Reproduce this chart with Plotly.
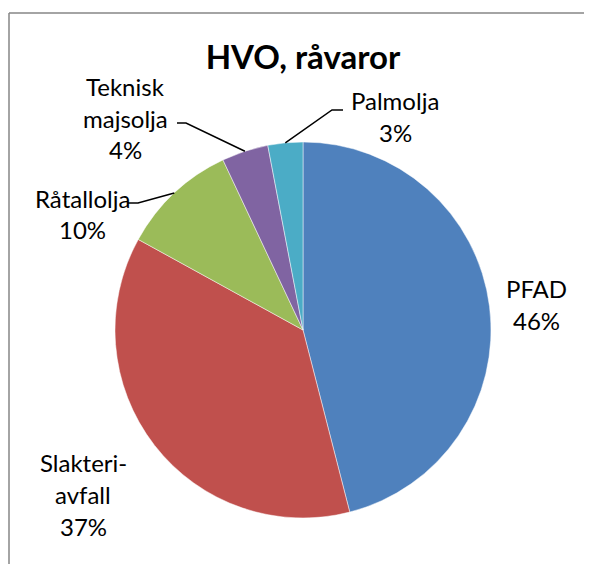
"""Pie chart: HVO, råvaror."""
import math

import plotly.graph_objects as go

OFF = 8  # page body margin on each side; the figure is shrunk so the page doesn't scroll
W, H = 592 - 2 * OFF, 572 - 2 * OFF

# Data
labels = ["PFAD", "Slakteriavfall", "Råtallolja", "Teknisk majsolja", "Palmolja"]
values = [46, 37, 10, 4, 3]
colors = ["#4F81BD", "#C0504D", "#9BBB59", "#8064A2", "#4BACC6"]
label_lines = [
    ["PFAD", "46%"],
    ["Slakteri-", "avfall", "37%"],
    ["Råtallolja", "10%"],
    ["Teknisk", "majsolja", "4%"],
    ["Palmolja", "3%"],
]

# pie geometry in window pixels
CX, CY, R = 303, 330, 188

# label text placement (pixel centre x, first line y) and leader elbows
label_pos = {
    "PFAD": (536, 288),
    "Slakteriavfall": (83, 462),
    "Råtallolja": (82, 198),
    "Teknisk majsolja": (125, 86),
    "Palmolja": (395, 101),
}
leaders = {
    "Råtallolja": [(138, 203), (128, 203)],
    "Teknisk majsolja": [(186, 123), (177, 123)],
    "Palmolja": [(332, 110), (343, 110)],
}
LINE_STEP = 32
FONT = "Lato, 'Open Sans', sans-serif"


def px(x, y):
    """Window pixel -> paper coordinates."""
    return (x - OFF) / W, 1 - (y - OFF) / H


fig = go.Figure()

fig.add_trace(go.Pie(
    labels=labels,
    values=values,
    sort=False,
    direction="clockwise",
    rotation=0,
    textinfo="none",
    hoverinfo="label+percent",
    marker=dict(colors=colors, line=dict(color="rgba(255,255,255,0.6)", width=0.8)),
    domain=dict(x=[px(CX - R, 0)[0], px(CX + R, 0)[0]],
                y=[px(0, CY + R)[1], px(0, CY - R)[1]]),
    showlegend=False,
))

# labels
for name, lines in zip(labels, label_lines):
    lx, ly = label_pos[name]
    for i, line in enumerate(lines):
        x, y = px(lx, ly + i * LINE_STEP)
        fig.add_annotation(
            x=x, y=y, xref="paper", yref="paper",
            text=line, showarrow=False,
            font=dict(family=FONT, size=24, color="#000000"),
            xanchor="center", yanchor="middle",
        )

# leader lines, starting at the slice mid-angle on the rim
total = sum(values)
cum = 0
for name, v in zip(labels, values):
    mid = (cum + v / 2) / total * 2 * math.pi
    cum += v
    if name not in leaders:
        continue
    pts = [(CX + R * math.sin(mid), CY - R * math.cos(mid))] + leaders[name]
    path = "M " + " L ".join(f"{px(x, y)[0]},{px(x, y)[1]}" for x, y in pts)
    fig.add_shape(type="path", path=path, xref="paper", yref="paper",
                  line=dict(color="#000000", width=1.5))

# chart frame (only top and left edges are visible)
fx, fy = px(9, 13)
frame = dict(color="#868686", width=1.5)
fig.add_shape(type="line", xref="paper", yref="paper", x0=fx, x1=fx, y0=0, y1=fy, line=frame)
fig.add_shape(type="line", xref="paper", yref="paper", x0=fx, x1=1, y0=fy, y1=fy, line=frame)

tx, ty = px(303, 57)
fig.update_layout(
    width=W,
    height=H,
    margin=dict(l=0, r=0, t=0, b=0),
    paper_bgcolor="white",
    plot_bgcolor="white",
    title=dict(
        text="<b>HVO, råvaror</b>",
        x=tx, xanchor="center",
        y=ty, yanchor="middle",
        font=dict(family=FONT, size=33, color="#000000"),
    ),
)

fig.write_html("out.html")
